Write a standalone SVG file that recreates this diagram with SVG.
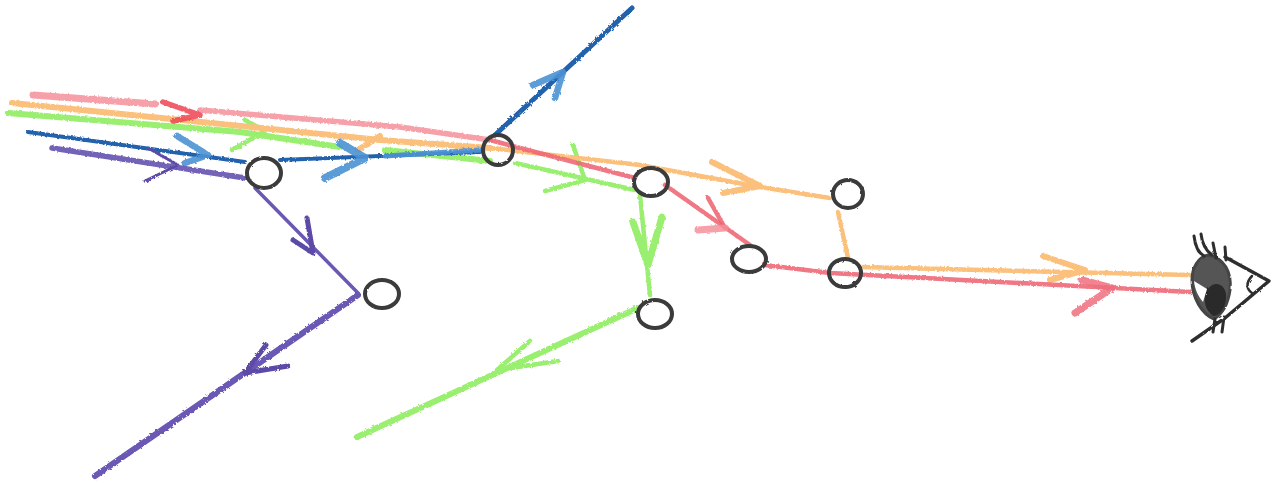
<svg xmlns="http://www.w3.org/2000/svg" width="1286" height="481" viewBox="0 0 1286 481">
<defs>
<filter id="crayon" x="0" y="0" width="1286" height="481" filterUnits="userSpaceOnUse" primitiveUnits="userSpaceOnUse">
<feTurbulence type="fractalNoise" baseFrequency="0.4" numOctaves="2" seed="4" result="n"/>
<feDisplacementMap in="SourceGraphic" in2="n" scale="3"/>
<feGaussianBlur stdDeviation="0.7"/>
</filter>
<filter id="pen" x="-10%" y="-10%" width="120%" height="120%">
<feTurbulence type="fractalNoise" baseFrequency="0.2" numOctaves="2" seed="9" result="n"/>
<feDisplacementMap in="SourceGraphic" in2="n" scale="2.2"/>
<feGaussianBlur stdDeviation="0.5"/>
</filter>
</defs>
<style>
path{fill:none;stroke-linecap:round;stroke-linejoin:round}
.red{stroke:#ee6472;stroke-width:4.5;opacity:.88}
.redb{stroke:#f4919a;stroke-width:7;opacity:.85}
.or{stroke:#fac07c;stroke-width:4.5}
.gr{stroke:#9aee70;stroke-width:4.5}
.bl{stroke:#2362ad;stroke-width:4}
.blb{stroke:#4b92d4;stroke-width:6.5;opacity:.9}
.pu{stroke:#5d4aa6;stroke-width:4.5}
.node ellipse{fill:none;stroke:#3a3a3a;stroke-width:4}
.ink{stroke:#2f2f2f}
</style>
<rect width="1286" height="481" fill="#fff"/>
<g id="connectors" filter="url(#crayon)">
<g id="green">
<path class="gr" style="stroke-width:6" d="M8 113L240 132L340 147M385 150L490 161"/>
<path class="gr" d="M515 163L635 190"/>
<path class="gr" d="M245 120L265 131L232 150"/>
<path class="gr" d="M573 145L585 180L545 191"/>
<path class="gr" d="M640 195L650 295"/>
<path class="gr" style="stroke-width:7" d="M633 222L648 265L662 217"/>
<path class="gr" style="stroke-width:6" d="M638 308L357 437"/>
<path class="gr" d="M558 361L497 370L530 341"/>
</g>
<g id="orange">
<path class="or" style="stroke-width:6" d="M12 103L380 140L490 148"/>
<path class="or" d="M490 148L640 165L760 187L830 198"/>
<path class="or" style="stroke-width:6" d="M380 136L358 150"/>
<path class="or" style="stroke-width:6" d="M712 162L760 186L723 193"/>
<path class="or" d="M838 212L848 258"/>
<path class="or" d="M860 267L1190 275"/>
<path class="or" style="stroke-width:6" d="M1043 256L1085 270L1050 280"/>
</g>
<g id="red">
<path class="redb" d="M33 95L155 104"/>
<path class="redb" style="stroke-width:5.5" d="M200 110L400 127L490 140"/>
<path class="red" d="M490 140L520 148L635 178M665 185L750 245"/>
<path class="red" style="stroke:#ee4a55;stroke-width:5.5" d="M163 102L200 115L173 121"/>
<path class="red" d="M708 198L725 228"/>
<path class="redb" d="M698 230L725 228"/>
<path class="red" d="M765 265L830 273L1190 292"/>
<path class="redb" style="stroke:#ee6e7c" d="M1082 280L1112 288L1075 313"/>
</g>
<g id="blue">
<path class="bl" d="M28 132L245 162M280 160L480 152"/>
<path class="bl" style="stroke-width:5" d="M495 135L632 8"/>
<path class="blb" d="M177 136L208 155L185 163"/>
<path class="blb" style="stroke-width:8" d="M340 143L365 158L325 178"/>
<path class="blb" d="M533 85L563 72L555 98"/>
<path class="blb" style="stroke-width:5" d="M385 156L480 150"/>
</g>
<g id="purple">
<path class="pu" style="stroke:#7263b8;stroke-width:5.5" d="M52 148L245 178"/>
<path class="pu" style="stroke-width:3" d="M148 148L178 165L145 181"/>
<path class="pu" style="stroke:#6a58b4;stroke-width:3.5" d="M255 188L358 293"/>
<path class="pu" style="stroke-width:5" d="M307 218L313 253L293 240"/>
<path class="pu" style="stroke:#6a58b4;stroke-width:6" d="M358 295L95 476"/>
<path class="pu" style="stroke-width:5" d="M266 345L245 373L288 366"/>
</g>
</g>
<g id="n1" class="node" filter="url(#pen)"><ellipse cx="264" cy="173" rx="17" ry="15"/></g>
<g id="n2" class="node" filter="url(#pen)"><ellipse cx="498" cy="150" rx="15" ry="15"/></g>
<g id="n3" class="node" filter="url(#pen)"><ellipse cx="651" cy="182" rx="17" ry="14"/></g>
<g id="n4" class="node" filter="url(#pen)"><ellipse cx="848" cy="194" rx="15" ry="14"/></g>
<g id="n5" class="node" filter="url(#pen)"><ellipse cx="749" cy="259" rx="17" ry="13"/></g>
<g id="n6" class="node" filter="url(#pen)"><ellipse cx="845" cy="273" rx="16" ry="14"/></g>
<g id="n7" class="node" filter="url(#pen)"><ellipse cx="382" cy="294" rx="17" ry="14"/></g>
<g id="n8" class="node" filter="url(#pen)"><ellipse cx="655" cy="314" rx="17" ry="14"/></g>
<g id="eye" filter="url(#pen)">
<path style="fill:#555;stroke:#444;stroke-width:3" d="M1208 255C1224 258 1232 272 1230 290C1228 304 1222 314 1214 319C1202 314 1192 298 1192 280C1192 268 1198 257 1208 255Z"/>
<path style="fill:#2a2a2a;stroke:none" d="M1206 292C1212 280 1224 282 1226 294C1227 306 1220 316 1213 316C1205 310 1203 300 1206 292Z"/>
<path style="fill:#fff;stroke:none" d="M1194 281L1207 289L1203 302C1198 296 1195 290 1194 281Z"/>
<path class="ink" style="stroke-width:3.5" d="M1225 257L1269 281L1225 318L1192 341"/>
<path class="ink" style="stroke-width:2.5" d="M1252 276C1246 282 1246 289 1252 293"/>
<path class="ink" style="stroke-width:3" d="M1194 236C1195 245 1197 252 1204 256M1201 234C1202 243 1205 250 1212 255M1213 243L1216 258M1225 247L1226 260"/>
<path class="ink" style="stroke-width:3" d="M1213 332L1215 319M1222 332L1224 317"/>
</g>
</svg>
